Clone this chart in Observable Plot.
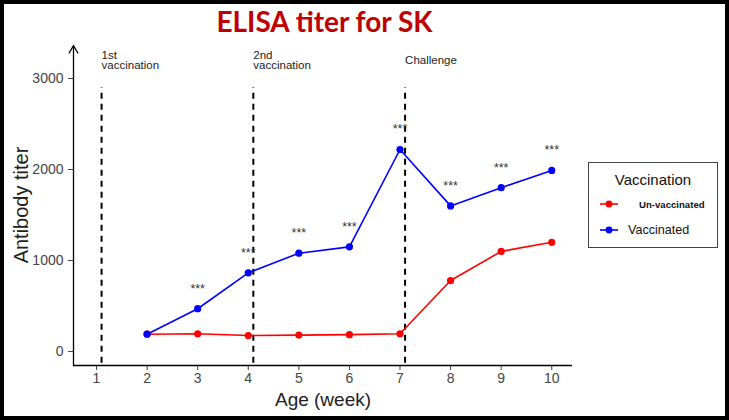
<!DOCTYPE html>
<html>
<head>
<meta charset="utf-8">
<script src="https://cdn.jsdelivr.net/npm/d3@7"></script>
<script src="https://cdn.jsdelivr.net/npm/@observablehq/plot@0.6"></script>
<style>
  html, body { margin: 0; padding: 0; background: #fff; }
  #wrap { position: relative; width: 729px; height: 420px; overflow: hidden; font-family: "Liberation Sans", Arial, sans-serif; }
  #frame { position: absolute; left: 0; top: 0; width: 729px; height: 420px; box-sizing: border-box; border: 4px solid #000; pointer-events: none; }
  #title { position: absolute; left: 0; width: 649px; top: 4px; text-align: center; color: #c00000; font-family: Lato, "Open Sans", sans-serif; font-weight: bold; font-size: 28px; }
  #chart { position: absolute; left: 0; top: 0; }
  #ylab { position: absolute; left: 21px; top: 205px; transform: translate(-50%, -50%) rotate(-90deg); white-space: nowrap; font-size: 20px; color: #222; line-height: 1; }
  #legend { position: absolute; left: 588px; top: 162px; width: 128px; height: 84px; border: 1.3px solid #444; background: #fff; }
  #legend .lt { position: absolute; left: 0; width: 128px; top: 8px; text-align: center; font-size: 15px; color: #111; }
  #legend .item { position: absolute; left: 10px; height: 16px; display: flex; align-items: center; }
  #legend svg { display: block; }
</style>
</head>
<body>
<div id="wrap">
  <div id="chart"></div>
  <div id="title">ELISA titer for SK</div>
  <div id="ylab">Antibody titer</div>
  <div id="legend"></div>
  <div id="frame"></div>
</div>
<script>
const weeks = [2, 3, 4, 5, 6, 7, 8, 9, 10];
const vaccinated = [190, 470, 865, 1080, 1150, 2220, 1600, 1800, 1990];
const unvaccinated = [190, 195, 175, 180, 185, 195, 780, 1100, 1200];
const starWeeks = [3, 4, 5, 6, 7, 8, 9, 10];
const xTicks = [1, 2, 3, 4, 5, 6, 7, 8, 9, 10];
const yTicks = [0, 1000, 2000, 3000];
const events = [1.1, 4.1, 7.1];
const eventLabels = ["1st\nvaccination", "2nd\nvaccination", "Challenge"];
const seriesNames = ["Un-vaccinated", "Vaccinated"];
const seriesColors = ["#ff0000", "#0000ff"];

const xDomain = [0.545, 10.41];
const yDomain = [-154, 3363];

const rows = [];
weeks.forEach((w, i) => {
  rows.push({week: w, titer: unvaccinated[i], group: seriesNames[0]});
  rows.push({week: w, titer: vaccinated[i], group: seriesNames[1]});
});
const stars = starWeeks.map(w => ({week: w, titer: vaccinated[weeks.indexOf(w)]}));

const plot = Plot.plot({
  width: 729,
  height: 420,
  marginLeft: 73,
  marginRight: 157,
  marginTop: 45,
  marginBottom: 55,
  style: {fontFamily: "Liberation Sans, Arial, sans-serif", background: "transparent"},
  x: {domain: xDomain},
  y: {domain: yDomain},
  color: {domain: seriesNames, range: seriesColors},
  marks: [
    Plot.ruleX(events, {x: d => d, y1: -130, y2: 2900, stroke: "#000", strokeWidth: 2, strokeDasharray: "6,5"}),
    Plot.text(events, {x: d => d, y: 3198, text: (d, i) => eventLabels[i], textAnchor: "start", lineAnchor: "middle", fontSize: 11.5, fill: "#222", lineHeight: 0.95}),
    Plot.line(rows, {x: "week", y: "titer", stroke: "group", z: "group", strokeWidth: 1.6}),
    Plot.dot(rows, {x: "week", y: "titer", fill: "group", r: 3.6}),
    Plot.text(stars, {x: "week", y: "titer", text: () => "***", dy: -20, fontSize: 12.5, fill: "#333"}),
    Plot.axisX({ticks: xTicks, tickSize: 5, tickPadding: 3, fontSize: 14, color: "#444", label: null, tickFormat: d => String(d)}),
    Plot.axisY({ticks: yTicks, tickSize: 5, tickPadding: 5, fontSize: 14, color: "#444", label: null, tickFormat: d => String(d)}),
    Plot.ruleY([yDomain[0]], {stroke: "#000", strokeWidth: 1.3}),
    Plot.arrow([0], {x1: xDomain[0], y1: yDomain[0], x2: xDomain[0], y2: yDomain[1], stroke: "#000", strokeWidth: 1.3, headLength: 10, bend: 0}),
    Plot.text(["Age (week)"], {frameAnchor: "bottom", dy: 40, fontSize: 19, fill: "#222"})
  ]
});
document.getElementById("chart").appendChild(plot);

// Legend
const legend = document.getElementById("legend");
const lt = document.createElement("div");
lt.className = "lt";
lt.textContent = "Vaccination";
legend.appendChild(lt);
const itemTops = [33, 59];
const itemStyles = [
  {fontSize: "9.6px", fontWeight: "bold", gap: 20},
  {fontSize: "12.6px", fontWeight: "normal", gap: 9}
];
seriesNames.forEach((name, i) => {
  const it = document.createElement("div");
  it.className = "item";
  it.style.top = itemTops[i] + "px";
  const sw = d3.create("svg").attr("width", 20).attr("height", 16);
  sw.append("line").attr("x1", 1).attr("x2", 19).attr("y1", 8).attr("y2", 8).attr("stroke", seriesColors[i]).attr("stroke-width", 1.6);
  sw.append("circle").attr("cx", 10).attr("cy", 8).attr("r", 3.4).attr("fill", seriesColors[i]);
  it.appendChild(sw.node());
  const lab = document.createElement("span");
  lab.textContent = name;
  lab.style.fontSize = itemStyles[i].fontSize;
  lab.style.fontWeight = itemStyles[i].fontWeight;
  lab.style.marginLeft = itemStyles[i].gap + "px";
  lab.style.color = "#111";
  it.appendChild(lab);
  legend.appendChild(it);
});
</script>
</body>
</html>
